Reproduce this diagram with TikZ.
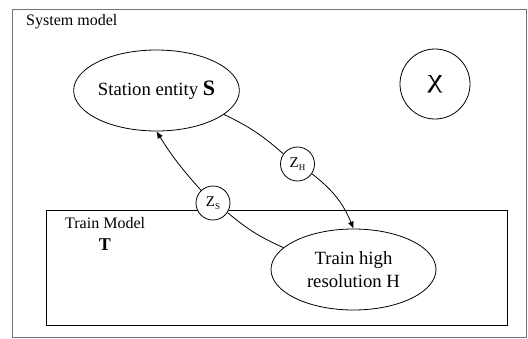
\documentclass[tikz,border=0pt]{standalone}
\usepackage{fontspec}
\setmainfont{Liberation Serif}
\usetikzlibrary{arrows.meta,shapes.geometric}

\newcommand{\zsub}[1]{\raisebox{-2.5pt}{\fontsize{9}{9}\selectfont #1}}

\begin{document}
\begin{tikzpicture}[
    x=1pt, y=-1pt,
    entity/.style={ellipse, draw, line width=0.8pt, fill=white, minimum width=165pt, minimum height=81pt, inner sep=0pt, align=center, font=\fontsize{18.7}{23}\selectfont},
    port/.style={circle, draw, line width=0.8pt, fill=white, minimum size=34pt, inner sep=0pt, font=\fontsize{15}{15}\selectfont},
    caption/.style={inner sep=0pt, font=\fontsize{16}{16}\selectfont},
    link/.style={line width=0.8pt},
    flow/.style={line width=0.8pt, -{Latex[length=7pt,width=6pt]}}
]
\useasboundingbox (0,0) rectangle (528,338);

% frames
\draw[draw=black!55, line width=1pt] (12,9) rectangle (526,337);
\node[caption, anchor=base west] (sysname) at (26,25.5) {System model};
\node[draw, line width=0.8pt, minimum width=461pt, minimum height=115pt, inner sep=0pt] (trainbox) at (276.5,267.5) {};
\node[caption, anchor=base west] (trainname) at (65,228) {Train Model};
\node[caption, anchor=base, font=\bfseries\fontsize{18}{18}\selectfont] (tname) at (105,250) {T};

% entities
\node[entity] (station) at (156.5,90.5) {Station entity {\bfseries\fontsize{22}{22}\selectfont S}};
\node[entity] (train) at (353.5,269.5) {Train high\\resolution H};
\node[port, minimum size=70pt, font=\fontsize{26}{26}\selectfont] (chi) at (435,84) {\raisebox{-2pt}{\scalebox{1.3}[1]{χ}}};
\node[port] (zh) at (297.5,164) {Z\zsub{H}};
\node[port] (zs) at (213,203) {Z\zsub{S}};

% links
\draw[link] (station) to[bend left=8] (zh);
\draw[flow] (zh) to[bend left=15] (train.north);
\draw[link] (train) to[bend left=8] (zs);
\draw[flow] (zs) to[bend left=5] (station.south);

\end{tikzpicture}
\end{document}
